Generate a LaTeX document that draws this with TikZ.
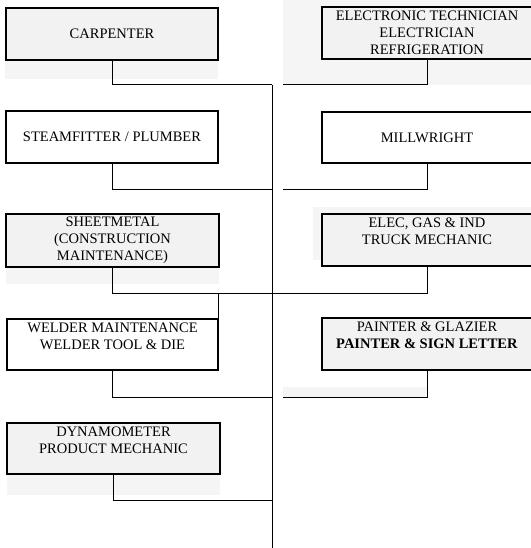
\documentclass[tikz,border=0pt]{standalone}
\usepackage{fontspec}
\setmainfont{Liberation Serif}
\usepackage{tikz}
\usetikzlibrary{positioning, calc}
\definecolor{boxgray}{HTML}{F2F2F2}
\definecolor{bandgray}{HTML}{F5F5F5}
\tikzset{
    jobbox/.style={draw, line width=1.1pt, minimum width=210pt, minimum height=52pt, inner sep=0pt, outer sep=0pt, align=center,
        font=\fontsize{14.5}{17}\selectfont},
    graybox/.style={jobbox, fill=boxgray},
    band/.style={fill=bandgray},
    link/.style={line width=1pt}
}

\begin{document}
\begin{tikzpicture}[x=1pt, y=-1pt]
	\useasboundingbox (0,0) rectangle (530,548);
	% shaded strips behind the boxes
	\fill[band](283,0) rectangle (531,85);
	\fill[band](5,60) rectangle (218,79);
	\fill[band](6,267) rectangle (219,284);
	\fill[band](313,207) rectangle (531,260);
	\fill[band](283,387) rectangle (428,397);
	\fill[band](7,474) rectangle (220,495);
	% left column
	\node(Carpenter)[graybox, minimum width=212pt] at (112,34){CARPENTER};
	\node(Steamfitter)[jobbox, minimum width=212pt] at (112,137){STEAMFITTER / PLUMBER};
	\node(Sheetmetal)[graybox, minimum width=213pt, minimum height=53pt] at (112.5,240.5){SHEETMETAL\\(CONSTRUCTION\\MAINTENANCE)};
	\node(Welder)[jobbox, minimum width=211pt, minimum height=51pt] at (112.5,344.5){WELDER MAINTENANCE\\WELDER TOOL \& DIE\\\mbox{}};
	\node(Dynamometer)[graybox, minimum width=213pt, minimum height=51pt] at (113.5,448.5){DYNAMOMETER\\PRODUCT MECHANIC\\\mbox{}};
	% right column
	\node(Electronic)[graybox] at (427,33){ELECTRONIC TECHNICIAN\\ELECTRICIAN\\REFRIGERATION};
	\node(Millwright)[jobbox, minimum height=51pt] at (427,137.5){MILLWRIGHT};
	\node(ElecGas)[graybox] at (427,240){ELEC, GAS \& IND\\TRUCK MECHANIC\\\mbox{}};
	\node(Painter)[graybox] at (427,344){PAINTER \& GLAZIER\\\textbf{PAINTER \& SIGN LETTER}\\\mbox{}};
	% spine and joints
	\coordinate(SpineTop) at (272,85);
	\coordinate(SpineEnd) at (272,548);
	\coordinate(J1) at (283,85);
	\coordinate(J2) at (272,189);
	\coordinate(J2r) at (283,189);
	\coordinate(J3) at (272,293);
	\coordinate(J4) at (272,397);
	\coordinate(J4r) at (283,397);
	\coordinate(J5) at (272,500);
	\draw[link](SpineTop)--(SpineEnd);
	\draw[link](Carpenter.south)|-(SpineTop);
	\draw[link](Electronic.south)|-(J1);
	\draw[link](Steamfitter.south)|-(J2);
	\draw[link](Millwright.south)|-(J2r);
	\draw[link](Sheetmetal.south)|-(J3);
	\draw[link](ElecGas.south)|-(J3);
	\draw[link](Welder.north east)--(Welder.north east |- J3);
	\draw[link](Welder.south)|-(J4);
	\draw[link](Painter.south)|-(J4r);
	\draw[link](Dynamometer.south)|-(J5);
\end{tikzpicture}
\end{document}
